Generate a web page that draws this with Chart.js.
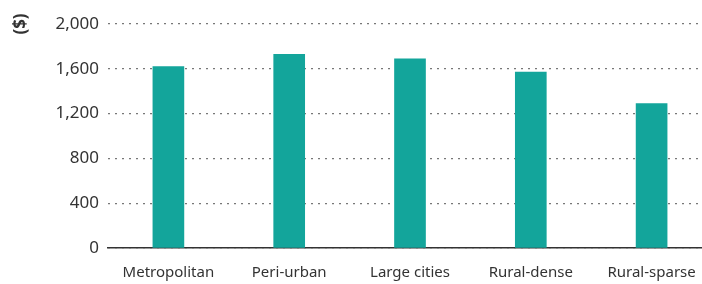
<!DOCTYPE html>
<html>
<head>
<meta charset="utf-8">
<script src="https://cdn.jsdelivr.net/npm/chart.js@4/dist/chart.umd.min.js"></script>
<style>
  html, body { margin: 0; padding: 0; background: #fff; overflow: hidden; }
  #wrap { width: 712px; height: 284px; }
</style>
</head>
<body>
<div id="wrap"><canvas id="barChart"></canvas></div>
<script>
const categories = ['Metropolitan', 'Peri-urban', 'Large cities', 'Rural-dense', 'Rural-sparse'];
const values = [1620, 1730, 1690, 1570, 1290];
const yTicks = [0, 400, 800, 1200, 1600, 2000];

const textColor = '#333333';
const fontFamily = '"Noto Sans", sans-serif';

// rotated "($)" unit label in the top left corner
const unitLabel = {
    id: 'unitLabel',
    afterDraw(chart) {
        const ctx = chart.ctx;
        ctx.save();
        ctx.translate(21, 24);
        ctx.rotate(-Math.PI / 2);
        ctx.font = 'bold 17px ' + fontFamily;
        ctx.fillStyle = textColor;
        ctx.textAlign = 'center';
        ctx.textBaseline = 'middle';
        ctx.fillText('($)', 0, 0);
        ctx.restore();
    }
};

new Chart(document.getElementById('barChart'), {
    type: 'bar',
    data: {
        labels: categories,
        datasets: [
            {
                label: '($)',
                data: values,
                backgroundColor: '#13a59b',
                barThickness: 31,
                borderWidth: 0,
            },
        ]
    },
    options: {
        responsive: true,
        maintainAspectRatio: false,
        animation: false,
        layout: {
            padding: { top: 24, bottom: 0, left: 0, right: 0 }
        },
        scales: {
            x: {
                afterFit(scale) {
                    scale.height = 36;
                },
                grid: { display: false, drawTicks: false },
                border: { display: true, color: '#333333', width: 1.5 },
                ticks: {
                    color: textColor,
                    padding: 16,
                    maxRotation: 0,
                    autoSkip: false,
                    font: { family: fontFamily, size: 15 }
                }
            },
            y: {
                min: 0,
                max: 2000,
                afterBuildTicks(scale) {
                    scale.ticks = yTicks.map(v => ({ value: v }));
                },
                afterFit(scale) {
                    scale.width = 108;
                },
                border: { display: false, dash: [2, 5] },
                grid: {
                    color: '#777777',
                    lineWidth: 1.2,
                    drawTicks: false
                },
                ticks: {
                    color: textColor,
                    padding: 9,
                    font: { family: fontFamily, size: 17 },
                    callback: v => v.toLocaleString('en-US')
                }
            }
        },
        plugins: {
            legend: { display: false },
            tooltip: { enabled: false }
        }
    },
    plugins: [unitLabel]
});
</script>
</body>
</html>
